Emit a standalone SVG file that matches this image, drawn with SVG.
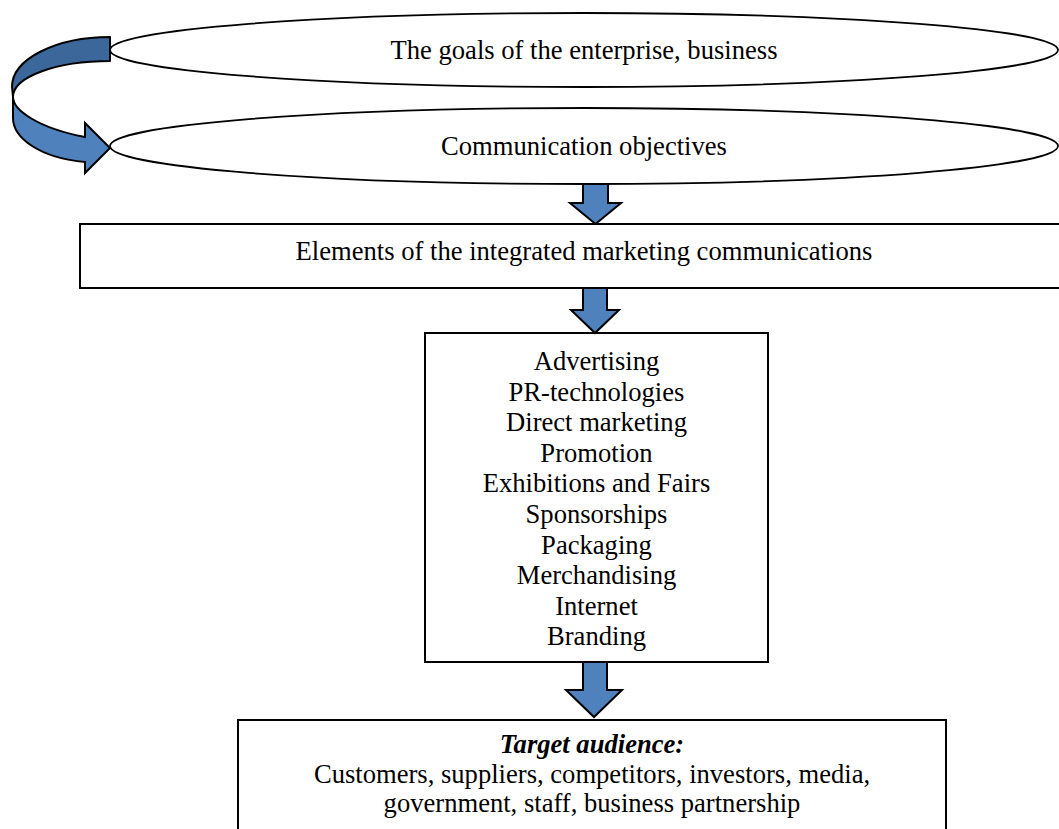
<svg xmlns="http://www.w3.org/2000/svg" width="1059" height="829" viewBox="0 0 1059 829">
  <style>
    .shape { fill: #ffffff; stroke: #000000; stroke-width: 2; }
    .oval { fill: #ffffff; stroke: #000000; stroke-width: 1.8; }
    .label { font-family: "Liberation Serif", "Times New Roman", serif; font-size: 26.6px; fill: #000000; text-anchor: middle; }
    .bold-italic { font-weight: bold; font-style: italic; }
    .block-arrow { fill: #4f81bd; stroke: #000000; stroke-width: 2; stroke-linejoin: miter; }
    .loop-dark { fill: #3b679b; stroke: #000000; stroke-width: 2; stroke-linejoin: round; }
    .loop-light { fill: #4f81bd; stroke: #000000; stroke-width: 2; stroke-linejoin: miter; }
  </style>

  <!-- goals of the enterprise -->
  <g id="node-goals">
    <ellipse class="oval" cx="584" cy="50" rx="474" ry="37"/>
    <text class="label" x="584" y="59">The goals of the enterprise, business</text>
  </g>

  <!-- communication objectives -->
  <g id="node-objectives">
    <ellipse class="oval" cx="584" cy="146" rx="474" ry="38"/>
    <text class="label" x="584" y="155">Communication objectives</text>
  </g>

  <!-- IMC elements header -->
  <g id="node-elements">
    <rect class="shape" x="80" y="224" width="1000" height="64"/>
    <text class="label" x="584" y="260">Elements of the integrated marketing communications</text>
  </g>

  <!-- list of IMC tools -->
  <g id="node-tools">
    <rect class="shape" x="425" y="333" width="343" height="329"/>
    <text class="label" x="596.5" y="370">Advertising</text>
    <text class="label" x="596.5" y="400.6">PR-technologies</text>
    <text class="label" x="596.5" y="431.2">Direct marketing</text>
    <text class="label" x="596.5" y="461.8">Promotion</text>
    <text class="label" x="596.5" y="492.4">Exhibitions and Fairs</text>
    <text class="label" x="596.5" y="523">Sponsorships</text>
    <text class="label" x="596.5" y="553.6">Packaging</text>
    <text class="label" x="596.5" y="584.2">Merchandising</text>
    <text class="label" x="596.5" y="614.8">Internet</text>
    <text class="label" x="596.5" y="645.4">Branding</text>
  </g>

  <!-- target audience -->
  <g id="node-audience">
    <rect class="shape" x="238" y="720" width="708" height="130"/>
    <text class="label bold-italic" x="592" y="753">Target audience:</text>
    <text class="label" x="592" y="782.5">Customers, suppliers, competitors, investors, media,</text>
    <text class="label" x="592" y="811.5">government, staff, business partnership</text>
  </g>

  <!-- connectors -->
  <g id="connectors">
    <!-- loop from goals back down to objectives -->
    <path class="loop-dark" d="M110,37 C56,37 12,59 12,87 L13,97 C13,77 56,61 110,61 Z"/>
    <path class="loop-light" d="M13,97 C13,110 38,128 85,137 L85,123 L110,148 L85,173 L85,162 C40,158 13,138 13,118 Z"/>
    <!-- block arrows -->
    <path class="block-arrow" d="M583,184 L608,184 L608,203 L621,203 L595.5,224 L570,203 L583,203 Z"/>
    <path class="block-arrow" d="M583,288 L607,288 L607,310 L619,310 L595,333 L571,310 L583,310 Z"/>
    <path class="block-arrow" d="M583,662 L607,662 L607,690 L622,690 L594,717 L566,690 L583,690 Z"/>
  </g>
</svg>
